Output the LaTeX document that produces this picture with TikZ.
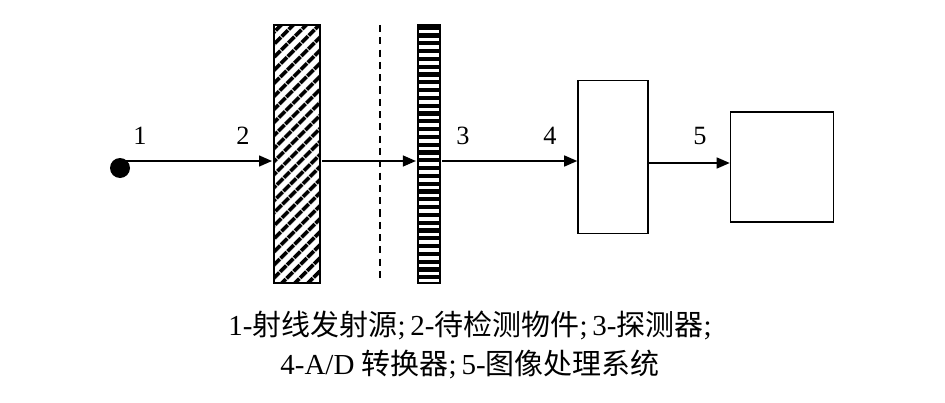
\documentclass[tikz,border=0pt]{standalone}
\usepackage{fontspec}
\setmainfont{Liberation Serif}
\newfontfamily\cjk{Noto Sans CJK SC}
\usetikzlibrary{positioning, patterns.meta, arrows.meta}
\tikzset{
	% arrows of the beam
	beam/.style={-{Triangle[length=2.6mm,width=2.2mm]}, line width=0.8pt},
	% plain boxes
	unit/.style={draw, line width=0.9pt, inner sep=0pt, minimum width=1.4cm, minimum height=3.06cm},
	tag/.style={font=\fontsize{15}{15}\selectfont, above}
}
\begin{document}
\begin{tikzpicture}[x=0.02cm, y=-0.02cm]
	\useasboundingbox (0,0) rectangle (945,402);
	
	% source
	\fill (120,168) circle (10) coordinate (src);
	\coordinate (s0) at (120,161);
	
	% object
	\node[draw, line width=1.2pt, minimum width=0.92cm, minimum height=5.16cm, inner sep=0pt,
		pattern={Lines[angle=45, distance=1.9mm, line width=0.8mm]}] (obj) at (297,154) {};
	
	% dashed line
	\draw[dash pattern=on 4pt off 3pt, line width=1.1pt] (380,25)--(380,283);
	
	% detector
	\node[draw, line width=1.2pt, minimum width=0.44cm, minimum height=5.16cm, inner sep=0pt,
		pattern={Lines[angle=0, distance=1.56mm, line width=0.85mm]}] (det) at (429,154) {};
	
	% converter, system
	\node[unit] (ad) at (613,157) {};
	\node[unit, minimum width=2.06cm, minimum height=2.2cm] (sys) at (782,167) {};
	
	% beams
	\draw[beam] (s0)--(s0 -| obj.west);
	\draw[beam] (s0 -| obj.east)--(s0 -| det.west);
	\draw[beam] (s0 -| det.east)--(s0 -| ad.west);
	\draw[beam] (ad.east |- 0,163)--(sys.west |- 0,163);
	
	% labels
	\node[tag] (t1) at (140,151) {1};
	\node[tag] (t2) at (243,151) {2};
	\node[tag] (t3) at (463,151) {3};
	\node[tag] (t4) at (550,151) {4};
	\node[tag] (t5) at (700,151) {5};
	
	% caption
	\node[font=\fontsize{16.5}{20}\selectfont, align=center] (cap) at (470,345)
		{1-{\cjk 射线发射源};\,2-{\cjk 待检测物件};\,3-{\cjk 探测器};\\[2pt]
		4-A/D {\cjk 转换器};\,5-{\cjk 图像处理系统}};
\end{tikzpicture}
\end{document}
